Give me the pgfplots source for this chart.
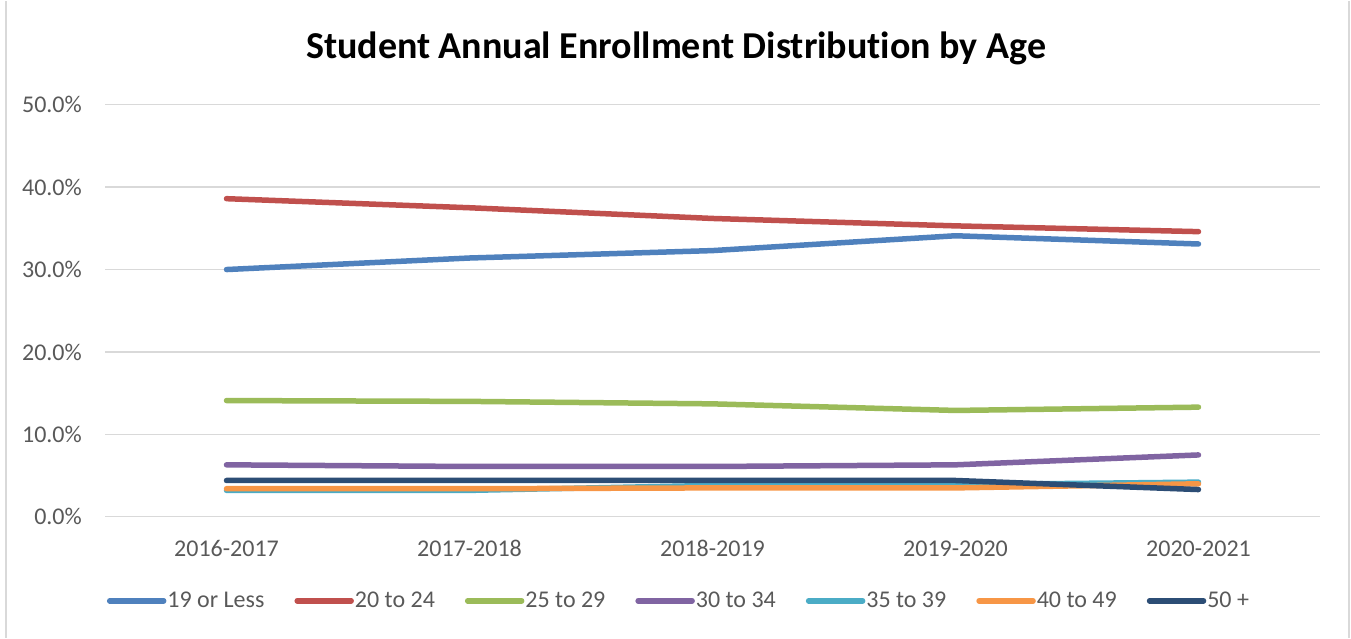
\documentclass[border=0pt]{standalone}
\usepackage{fontspec}
\setmainfont{Carlito}[Ligatures={NoCommon}]
\usepackage{pgfplots}
\pgfplotsset{compat=1.18}
\definecolor{cA}{HTML}{4F81BD}
\definecolor{cB}{HTML}{C0504D}
\definecolor{cC}{HTML}{9BBB59}
\definecolor{cD}{HTML}{8064A2}
\definecolor{cE}{HTML}{4BACC6}
\definecolor{cF}{HTML}{F79646}
\definecolor{cG}{HTML}{2C4D75}
\definecolor{gridc}{HTML}{D9D9D9}
\definecolor{textgray}{HTML}{595959}
\begin{document}
\begin{tikzpicture}[x=1pt,y=1pt]
\path (0,0) rectangle (1351,637);
\draw[gridc, line width=1.5pt] (6,0) -- (6,637);
\draw[gridc, line width=1.5pt] (1349,0) -- (1349,637);
\node[font=\fontsize{38}{45}\selectfont\bfseries, text=black] at (676,589) {Student Annual Enrollment Distribution by Age};
\begin{axis}[
  at={(105pt,121pt)}, anchor=south west,
  scale only axis, width=1215pt, height=412pt,
  xmin=-0.5, xmax=4.5, ymin=0, ymax=50,
  xtick={0,1,2,3,4},
  xticklabels={2016-2017,2017-2018,2018-2019,2019-2020,2020-2021},
  ytick={0,10,20,30,40,50},
  /pgf/number format/assume math mode=true,
  yticklabel={\pgfmathprintnumber[fixed,fixed zerofill,precision=1]{\tick}\%},
  ymajorgrids, grid style={gridc, line width=1.3pt},
  axis line style={draw=none},
  major tick length=0pt,
  tick label style={font=\fontsize{24}{28}\selectfont, text=textgray},
  xticklabel style={anchor=center, inner sep=0pt, yshift=-32pt},
  yticklabel style={anchor=east, inner sep=0pt, xshift=-23pt},
  clip=false,
  legend columns=7,
  legend style={at={(0.472,-0.204)}, anchor=center, draw=none, fill=none,
    font=\fontsize{24}{28}\selectfont, text=textgray, inner sep=0pt,
    /tikz/every even column/.append style={column sep=29pt},
    nodes={inner sep=1pt}},
  legend image code/.code={\draw[#1, line width=5.5pt, line cap=round] (0pt,0pt) -- (54pt,0pt);},
  every axis plot/.append style={line width=5.5pt, line cap=round, line join=round, mark=none},
]
\addplot[cA] coordinates {(0,30.0) (1,31.4) (2,32.3) (3,34.1) (4,33.1)};
\addlegendentry{19 or Less}
\addplot[cB] coordinates {(0,38.6) (1,37.5) (2,36.2) (3,35.3) (4,34.6)};
\addlegendentry{20 to 24}
\addplot[cC] coordinates {(0,14.1) (1,14.0) (2,13.7) (3,12.9) (4,13.3)};
\addlegendentry{25 to 29}
\addplot[cD] coordinates {(0,6.3) (1,6.1) (2,6.1) (3,6.3) (4,7.5)};
\addlegendentry{30 to 34}
\addplot[cE] coordinates {(0,3.2) (1,3.2) (2,3.8) (3,3.9) (4,4.2)};
\addlegendentry{35 to 39}
\addplot[cF] coordinates {(0,3.4) (1,3.4) (2,3.5) (3,3.5) (4,4.0)};
\addlegendentry{40 to 49}
\addplot[cG] coordinates {(0,4.4) (1,4.4) (2,4.4) (3,4.4) (4,3.3)};
\addlegendentry{50 +}
\end{axis}
\end{tikzpicture}
\end{document}
